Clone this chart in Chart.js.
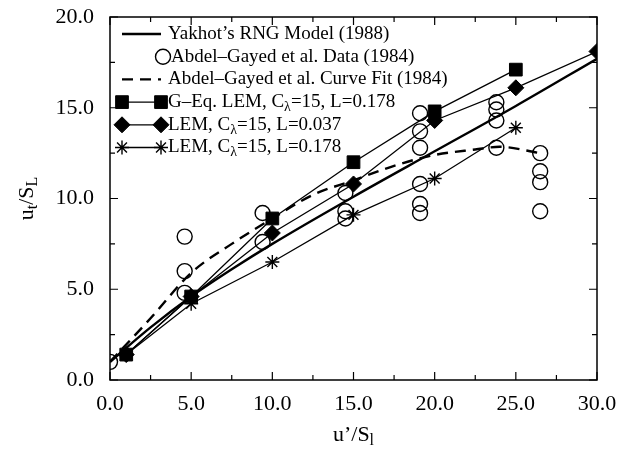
<!DOCTYPE html>
<html lang="en">
<head>
<meta charset="UTF-8">
<title>Turbulent flame speed</title>
<script src="https://cdn.jsdelivr.net/npm/chart.js"></script>
<style>
    html, body { margin: 0; padding: 0; background: #fff; }
</style>
</head>
<body>
<canvas id="grafico" width="632" height="450"></canvas>
<script>
    // Yakhot's RNG model (solid thick line)
    const yakhotX = [0, 2.5, 5, 7.5, 10, 15, 20, 25, 30];
    const yakhotY = [1.0, 2.9, 4.6, 6.1, 7.5, 10.1, 12.6, 15.1, 17.7];

    // Abdel-Gayed et al. data (open circles)
    const datosX = [0.0, 4.6, 4.6, 4.6, 9.4, 9.4, 14.5, 14.5, 14.5,
                    19.1, 19.1, 19.1, 19.1, 19.1, 19.1,
                    23.8, 23.8, 23.8, 23.8, 26.5, 26.5, 26.5, 26.5];
    const datosY = [1.0, 7.9, 6.0, 4.8, 9.2, 7.6, 10.3, 9.3, 8.9,
                    14.7, 13.7, 12.8, 10.8, 9.7, 9.2,
                    15.3, 14.9, 14.3, 12.8, 12.5, 11.5, 10.9, 9.3];

    // Abdel-Gayed et al. curve fit (dashed)
    const ajusteX = [0, 2.5, 5, 7.5, 10, 12.5, 15, 17.5, 20, 22.5, 24, 26.5];
    const ajusteY = [1.0, 3.4, 5.9, 7.5, 8.9, 10.2, 11.0, 11.8, 12.4, 12.7, 12.85, 12.5];

    // LEM series
    const geqX = [1, 5, 10, 15, 20, 25];
    const geqY = [1.4, 4.6, 8.9, 12.0, 14.8, 17.1];
    const lem037X = [1, 5, 10, 15, 20, 25, 30];
    const lem037Y = [1.4, 4.6, 8.1, 10.8, 14.3, 16.1, 18.1];
    const lem178X = [1, 5, 10, 15, 20, 25];
    const lem178Y = [1.4, 4.2, 6.5, 9.1, 11.1, 13.9];

    const xTicks = [0, 5, 10, 15, 20, 25, 30];
    const yTicks = [0, 5, 10, 15, 20];

    const FUENTE = '"Liberation Serif", "Times New Roman", serif';

    function puntos(xs, ys) {
        return xs.map((x, i) => ({ x: x, y: ys[i] }));
    }

    // Legend rows: text parts are [text, isSubscript]
    const leyenda = [
        { ds: 0, partes: [['Yakhot\u2019s RNG Model (1988)', false]] },
        { ds: 1, partes: [['Abdel\u2013Gayed et al. Data (1984)', false]] },
        { ds: 2, partes: [['Abdel\u2013Gayed et al. Curve Fit (1984)', false]] },
        { ds: 3, partes: [['G\u2013Eq. LEM, C', false], ['\u03bb', true], ['=15, L=0.178', false]] },
        { ds: 4, partes: [['LEM, C', false], ['\u03bb', true], ['=15, L=0.037', false]] },
        { ds: 5, partes: [['LEM, C', false], ['\u03bb', true], ['=15, L=0.178', false]] }
    ];

    function textoRico(ctx, partes, x, y, tam, medir) {
        let ancho = 0;
        partes.forEach(([t, sub]) => {
            const s = sub ? Math.round(tam * 0.72) : tam;
            ctx.font = s + 'px ' + FUENTE;
            if (!medir) ctx.fillText(t, x + ancho, sub ? y + tam * 0.28 : y);
            ancho += ctx.measureText(t).width;
        });
        return ancho;
    }

    const marco = {
        id: 'marco',
        afterDatasetsDraw(chart) {
            const { ctx, chartArea: a, scales } = chart;
            ctx.save();
            ctx.strokeStyle = '#000';
            ctx.lineWidth = 1.5;
            ctx.strokeRect(a.left, a.top, a.right - a.left, a.bottom - a.top);
            ctx.lineWidth = 1.2;
            ctx.beginPath();
            for (let v = 0; v <= 30; v += 2.5) {
                const px = scales.x.getPixelForValue(v);
                const l = v % 5 === 0 ? 8 : 5;
                ctx.moveTo(px, a.bottom); ctx.lineTo(px, a.bottom - l);
                ctx.moveTo(px, a.top); ctx.lineTo(px, a.top + l);
            }
            for (let v = 0; v <= 20; v += 2.5) {
                const py = scales.y.getPixelForValue(v);
                const l = v % 5 === 0 ? 8 : 5;
                ctx.moveTo(a.left, py); ctx.lineTo(a.left + l, py);
                ctx.moveTo(a.right, py); ctx.lineTo(a.right - l, py);
            }
            ctx.stroke();
            ctx.restore();
        }
    };

    const leyendaPlugin = {
        id: 'leyendaPlugin',
        afterDraw(chart) {
            const ctx = chart.ctx;
            ctx.save();
            ctx.fillStyle = '#000';
            ctx.textBaseline = 'middle';
            leyenda.forEach((fila, i) => {
                const y = 34 + i * 22.7;
                const ds = chart.data.datasets[fila.ds];
                const x1 = 122, x2 = 161;
                ctx.strokeStyle = '#000';
                if (fila.ds !== 1) {
                    ctx.lineWidth = ds.borderWidth;
                    ctx.setLineDash(ds.borderDash || []);
                    ctx.beginPath();
                    ctx.moveTo(x1, y);
                    ctx.lineTo(x2, y);
                    ctx.stroke();
                    ctx.setLineDash([]);
                }
                if (ds.pointRadius > 0) {
                    ctx.fillStyle = ds.pointBackgroundColor;
                    ctx.lineWidth = ds.pointBorderWidth;
                    const op = { pointStyle: ds.pointStyle, radius: ds.pointRadius, rotation: 0, borderWidth: ds.pointBorderWidth };
                    if (fila.ds === 1) {
                        Chart.helpers.drawPoint(ctx, op, 163, y);
                    } else {
                        Chart.helpers.drawPoint(ctx, op, x1, y);
                        Chart.helpers.drawPoint(ctx, op, x2, y);
                    }
                }
                ctx.fillStyle = '#000';
                textoRico(ctx, fila.partes, fila.ds === 1 ? 171 : 168, y, 19, false);
            });
            ctx.restore();
        }
    };

    const titulos = {
        id: 'titulos',
        afterDraw(chart) {
            const { ctx, chartArea: a } = chart;
            ctx.save();
            ctx.fillStyle = '#000';
            ctx.textBaseline = 'middle';
            const px = [['u\u2019/S', false], ['l', true]];
            const w = textoRico(ctx, px, 0, 0, 22, true);
            textoRico(ctx, px, (a.left + a.right) / 2 - w / 2, 435, 22, false);

            const py = [['u', false], ['t', true], ['/S', false], ['L', true]];
            const h = textoRico(ctx, py, 0, 0, 22, true);
            ctx.translate(27, (a.top + a.bottom) / 2);
            ctx.rotate(-Math.PI / 2);
            textoRico(ctx, py, -h / 2, 0, 22, false);
            ctx.restore();
        }
    };

    const lineaBase = {
        showLine: true,
        borderColor: '#000',
        backgroundColor: '#000',
        pointBorderColor: '#000',
        fill: false
    };

    new Chart(document.getElementById('grafico'), {
        type: 'scatter',
        data: {
            datasets: [
                Object.assign({}, lineaBase, {
                    label: 'Yakhot\u2019s RNG Model (1988)',
                    data: puntos(yakhotX, yakhotY),
                    borderWidth: 2.4,
                    pointRadius: 0,
                    cubicInterpolationMode: 'monotone'
                }),
                {
                    label: 'Abdel-Gayed et al. Data (1984)',
                    data: puntos(datosX, datosY),
                    showLine: false,
                    pointStyle: 'circle',
                    pointRadius: 7.5,
                    pointBorderWidth: 1.4,
                    pointBorderColor: '#000',
                    pointBackgroundColor: 'rgba(0,0,0,0)'
                },
                Object.assign({}, lineaBase, {
                    label: 'Abdel-Gayed et al. Curve Fit (1984)',
                    data: puntos(ajusteX, ajusteY),
                    borderWidth: 2.4,
                    borderDash: [11, 7],
                    pointRadius: 0,
                    cubicInterpolationMode: 'monotone'
                }),
                Object.assign({}, lineaBase, {
                    label: 'G-Eq. LEM, C=15, L=0.178',
                    data: puntos(geqX, geqY),
                    borderWidth: 1.3,
                    pointStyle: 'rect',
                    pointRadius: 9,
                    pointBorderWidth: 1,
                    pointBackgroundColor: '#000'
                }),
                Object.assign({}, lineaBase, {
                    label: 'LEM, C=15, L=0.037',
                    data: puntos(lem037X, lem037Y),
                    borderWidth: 1.3,
                    pointStyle: 'rectRot',
                    pointRadius: 8,
                    pointBorderWidth: 1,
                    pointBackgroundColor: '#000'
                }),
                Object.assign({}, lineaBase, {
                    label: 'LEM, C=15, L=0.178',
                    data: puntos(lem178X, lem178Y),
                    borderWidth: 1.3,
                    pointStyle: 'star',
                    pointRadius: 7,
                    pointBorderWidth: 1.4,
                    pointBackgroundColor: '#000'
                })
            ]
        },
        options: {
            responsive: false,
            animation: false,
            layout: { padding: { left: 0, right: 35, top: 17, bottom: 0 } },
            plugins: {
                legend: { display: false },
                tooltip: { enabled: false }
            },
            scales: {
                x: {
                    type: 'linear',
                    min: 0,
                    max: 30,
                    afterFit: s => { s.height = 70; s.paddingLeft = 0; s.paddingRight = 0; },
                    afterBuildTicks: s => { s.ticks = xTicks.map(v => ({ value: v })); },
                    grid: { display: false, drawTicks: false },
                    border: { display: false },
                    ticks: {
                        padding: 11,
                        color: '#000',
                        font: { family: FUENTE, size: 22 },
                        callback: v => v.toFixed(1)
                    }
                },
                y: {
                    type: 'linear',
                    min: 0,
                    max: 20,
                    afterFit: s => { s.width = 110; s.paddingTop = 0; s.paddingBottom = 0; },
                    afterBuildTicks: s => { s.ticks = yTicks.map(v => ({ value: v })); },
                    grid: { display: false, drawTicks: false },
                    border: { display: false },
                    ticks: {
                        padding: 16,
                        color: '#000',
                        font: { family: FUENTE, size: 22 },
                        callback: v => v.toFixed(1)
                    }
                }
            }
        },
        plugins: [marco, leyendaPlugin, titulos]
    });
</script>
</body>
</html>
